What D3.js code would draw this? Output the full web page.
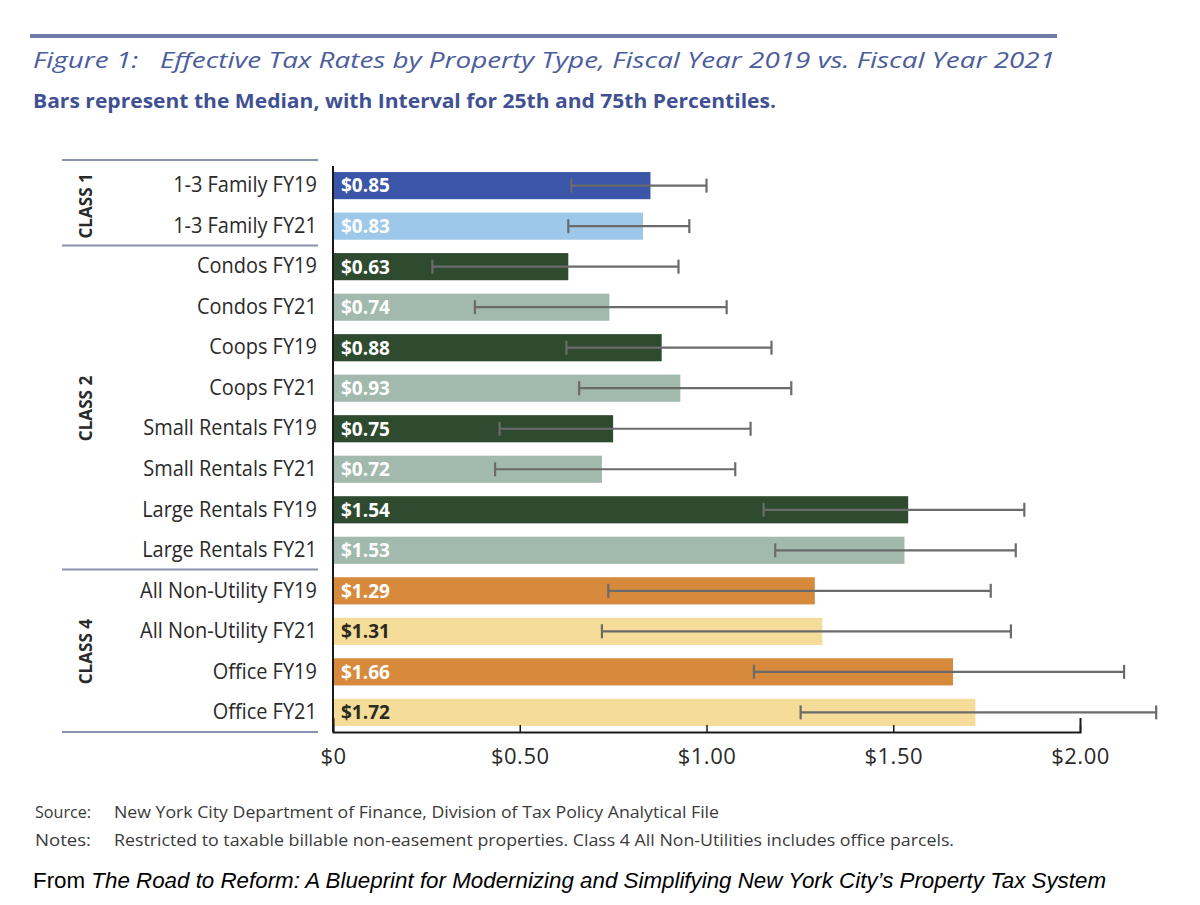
<!DOCTYPE html>
<html lang='en'>
<head>
	<meta charset='UTF-8'/>
	<title>Effective Tax Rates by Property Type</title>
	<script src='https://cdnjs.cloudflare.com/ajax/libs/d3/7.8.5/d3.min.js'></script>
	<style>
		body {margin: 0; background: #fff;}
		svg {display: block;}
		text {font-family: 'Open Sans', 'DejaVu Sans', sans-serif;}
	</style>
</head>
<body>
	<div class='graph'></div>
	<script>
		// data
		const categories = ['1-3 Family FY19', '1-3 Family FY21', 'Condos FY19', 'Condos FY21',
			'Coops FY19', 'Coops FY21', 'Small Rentals FY19', 'Small Rentals FY21',
			'Large Rentals FY19', 'Large Rentals FY21', 'All Non-Utility FY19', 'All Non-Utility FY21',
			'Office FY19', 'Office FY21'];
		const medians = [0.85, 0.83, 0.63, 0.74, 0.88, 0.93, 0.75, 0.72, 1.54, 1.53, 1.29, 1.31, 1.66, 1.72];
		const p25 = [0.638, 0.63, 0.266, 0.38, 0.625, 0.659, 0.446, 0.434, 1.153, 1.184, 0.737, 0.72, 1.127, 1.252];
		const p75 = [1.00, 0.954, 0.925, 1.054, 1.174, 1.227, 1.118, 1.077, 1.851, 1.828, 1.761, 1.815, 2.118, 2.204];
		const groups = ['c1a', 'c1b', 'c2a', 'c2b', 'c2a', 'c2b', 'c2a', 'c2b', 'c2a', 'c2b', 'c4a', 'c4b', 'c4a', 'c4b'];
		const classes = [
			{name: 'CLASS 1', first: 0, last: 1},
			{name: 'CLASS 2', first: 2, last: 9},
			{name: 'CLASS 4', first: 10, last: 13}
		];
		const xTicks = [0, 0.5, 1, 1.5, 2];
		const xTickLabels = ['$0', '$0.50', '$1.00', '$1.50', '$2.00'];

		const colors = {c1a: '#3b55a9', c1b: '#9dc8e9', c2a: '#2e4b30', c2b: '#a2b9ad', c4a: '#d78a3b', c4b: '#f6dc99'};
		const labelColors = {c1a: '#fff', c1b: '#fff', c2a: '#fff', c2b: '#fff', c4a: '#fff', c4b: '#2b2a20'};

		const width = 1200, height = 905;
		const margin = {top: 168, right: 120, bottom: 173, left: 333};

		const svg = d3.select('.graph')
			.append('svg')
			.attr('width', width)
			.attr('height', height);

		// header
		svg.append('line')
			.attr('x1', 30).attr('x2', 1057)
			.attr('y1', 36).attr('y2', 36)
			.attr('stroke', '#6f7aa6').attr('stroke-width', 4);
		svg.append('text')
			.attr('x', 33).attr('y', 68)
			.attr('textLength', 1022).attr('lengthAdjust', 'spacingAndGlyphs')
			.style('font-size', '22px').style('font-style', 'italic')
			.style('fill', '#4c5d9c')
			.text('Figure 1:\u00a0\u00a0\u00a0Effective Tax Rates by Property Type, Fiscal Year 2019 vs. Fiscal Year 2021');
		svg.append('text')
			.attr('x', 33).attr('y', 108)
			.attr('textLength', 743).attr('lengthAdjust', 'spacingAndGlyphs')
			.style('font-size', '19px').style('font-weight', 'bold')
			.style('fill', '#3f5193')
			.text('Bars represent the Median, with Interval for 25th and 75th Percentiles.');

		// scales
		const x = d3.scaleLinear()
			.domain([0, 2])
			.range([margin.left, 1080]);
		const y = d3.scaleBand()
			.domain(categories)
			.range([margin.top, height - margin.bottom - 2])
			.paddingInner(0.33)
			.paddingOuter(0.1);

		// class dividers
		const gap = (y.step() - y.bandwidth()) / 2;
		const dividerYs = [160, y(categories[2]) - gap - 1, y(categories[10]) - gap - 1, height - margin.bottom];
		svg.selectAll('.divider')
			.data(dividerYs)
			.enter()
			.append('line')
			.attr('class', 'divider')
			.attr('x1', 62).attr('x2', 318)
			.attr('y1', d => d).attr('y2', d => d)
			.attr('stroke', '#8a92ad').attr('stroke-width', 2);

		svg.selectAll('.classlabel')
			.data(classes)
			.enter()
			.append('text')
			.attr('class', 'classlabel')
			.attr('transform', d => {
				let cy = (y(categories[d.first]) + y(categories[d.last]) + y.bandwidth()) / 2;
				return 'translate(92,' + cy + ') rotate(-90) scale(0.95,1)';
			})
			.attr('text-anchor', 'middle')
			.style('font-size', '18px').style('font-weight', 'bold')
			.style('fill', '#2a2a2a')
			.text(d => d.name);

		// bars
		svg.selectAll('.bar')
			.data(categories)
			.enter()
			.append('rect')
			.attr('class', 'bar')
			.attr('x', x(0))
			.attr('y', d => y(d))
			.attr('width', (d, i) => x(medians[i]) - x(0))
			.attr('height', y.bandwidth())
			.attr('fill', (d, i) => colors[groups[i]]);

		// value labels
		svg.selectAll('.value')
			.data(categories)
			.enter()
			.append('text')
			.attr('class', 'value')
			.attr('x', x(0) + 8)
			.attr('y', d => y(d) + y.bandwidth() / 2)
			.attr('dy', '0.36em')
			.style('font-size', '19px').style('font-weight', 'bold')
			.style('fill', (d, i) => labelColors[groups[i]])
			.text((d, i) => '$' + medians[i].toFixed(2));

		// interval whiskers
		const whiskers = svg.selectAll('.whisker')
			.data(categories)
			.enter()
			.append('g')
			.attr('class', 'whisker')
			.attr('stroke', '#6b6b6b')
			.attr('stroke-width', 2.2);
		whiskers.append('line')
			.attr('x1', (d, i) => x(p25[i])).attr('x2', (d, i) => x(p75[i]))
			.attr('y1', d => y(d) + y.bandwidth() / 2).attr('y2', d => y(d) + y.bandwidth() / 2);
		whiskers.append('line')
			.attr('x1', (d, i) => x(p25[i])).attr('x2', (d, i) => x(p25[i]))
			.attr('y1', d => y(d) + y.bandwidth() / 2 - 7).attr('y2', d => y(d) + y.bandwidth() / 2 + 7);
		whiskers.append('line')
			.attr('x1', (d, i) => x(p75[i])).attr('x2', (d, i) => x(p75[i]))
			.attr('y1', d => y(d) + y.bandwidth() / 2 - 7).attr('y2', d => y(d) + y.bandwidth() / 2 + 7);

		// y axis
		const yAxis = svg.append('g')
			.attr('transform', 'translate(' + x(0) + ',0)')
			.call(d3.axisLeft(y).tickSize(0).tickSizeOuter(0).tickPadding(17));
		yAxis.select('.domain')
			.attr('d', 'M0,' + (margin.top - 2) + 'V' + (height - margin.bottom))
			.attr('stroke', '#1a1a1a').attr('stroke-width', 2);
		yAxis.selectAll('text')
			.attr('transform', 'scale(0.95,1)')
			.style('font-family', "'Open Sans', 'DejaVu Sans', sans-serif")
			.style('font-size', '21px').style('fill', '#2a2a2a');

		// x axis
		const xAxis = svg.append('g')
			.attr('transform', 'translate(0,' + (height - margin.bottom) + ')')
			.call(d3.axisBottom(x).tickValues(xTicks).tickSize(-7).tickSizeOuter(-14)
				.tickFormat((d, i) => xTickLabels[i]).tickPadding(16));
		xAxis.select('.domain').attr('stroke', '#1a1a1a').attr('stroke-width', 2);
		xAxis.selectAll('.tick line').attr('stroke', '#1a1a1a').attr('stroke-width', 1.5);
		xAxis.selectAll('text')
			.style('font-family', "'Open Sans', 'DejaVu Sans', sans-serif")
			.style('font-size', '22px').style('letter-spacing', '0.5px').style('fill', '#2a2a2a');

		// footnotes
		const notes = [
			['Source:', 'New York City Department of Finance, Division of Tax Policy Analytical File', 818, 605],
			['Notes:', 'Restricted to taxable billable non-easement properties. Class 4 All Non-Utilities includes office parcels.', 846, 840]
		];
		notes.forEach(n => {
			svg.append('text')
				.attr('x', 35).attr('y', n[2])
				.style('font-size', '16px').style('fill', '#3a3a3a')
				.attr('textLength', 56).attr('lengthAdjust', 'spacingAndGlyphs')
				.text(n[0]);
			svg.append('text')
				.attr('x', 114).attr('y', n[2])
				.style('font-size', '16px').style('fill', '#3a3a3a')
				.attr('textLength', n[3]).attr('lengthAdjust', 'spacingAndGlyphs')
				.text(n[1]);
		});
		const from = svg.append('text')
			.attr('x', 33).attr('y', 888)
			.attr('textLength', 1073).attr('lengthAdjust', 'spacingAndGlyphs')
			.style('font-family', "'Liberation Sans', Arial, sans-serif")
			.style('font-size', '22px').style('fill', '#000');
		from.append('tspan').text('From ');
		from.append('tspan').style('font-style', 'italic')
			.text('The Road to Reform: A Blueprint for Modernizing and Simplifying New York City\u2019s Property Tax System');
	</script>
</body>
</html>
